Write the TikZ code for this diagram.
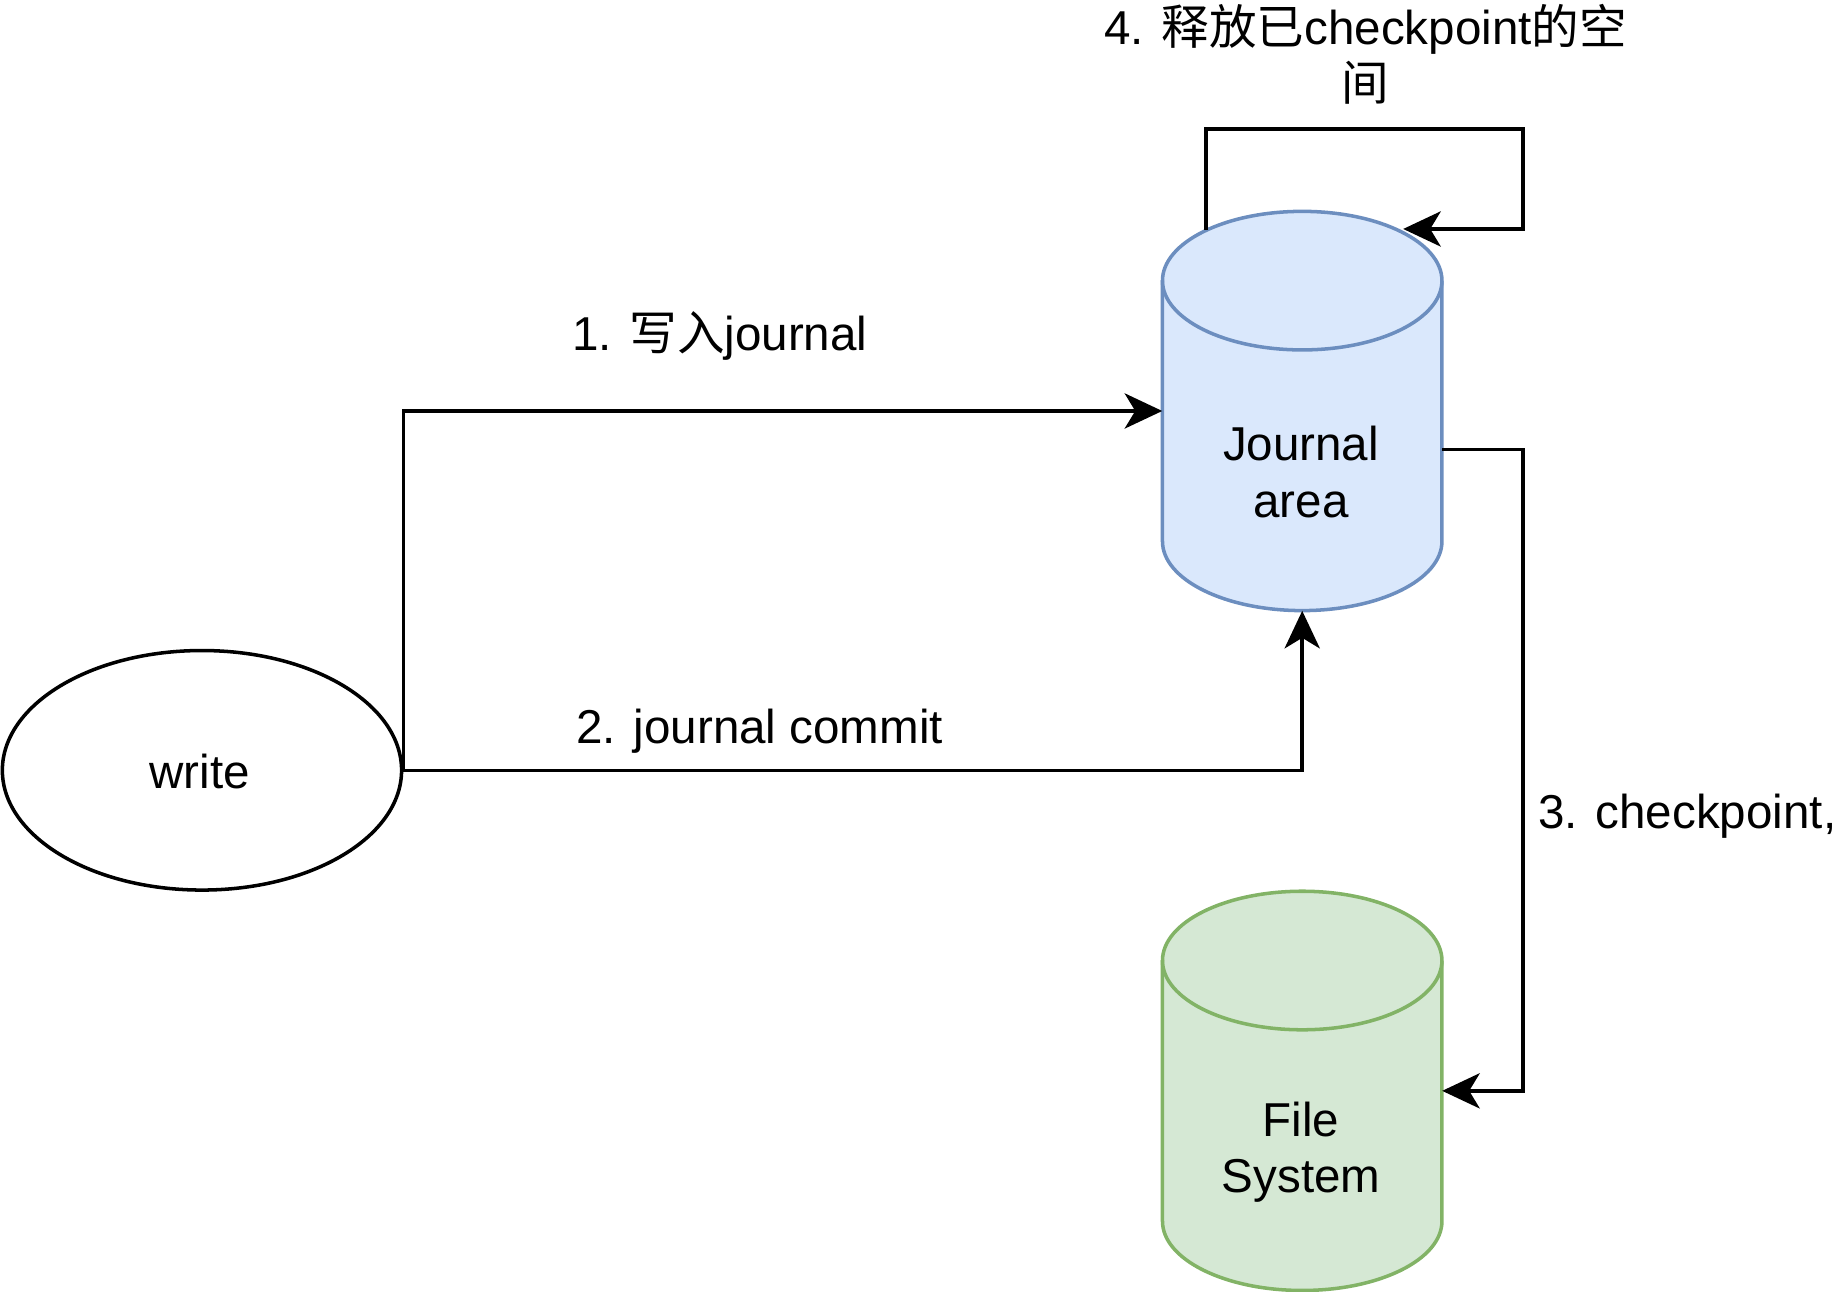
\documentclass[tikz,border=0pt]{standalone}
\usepackage{fontspec}
\setmainfont{Liberation Sans}
\newfontfamily\cjk{Noto Sans CJK SC}
\usetikzlibrary{arrows.meta,calc,shapes.geometric}
\definecolor{jfill}{HTML}{DAE8FC}
\definecolor{jline}{HTML}{6C8EBF}
\definecolor{ffill}{HTML}{D5E8D4}
\definecolor{fline}{HTML}{82B366}
\begin{document}
\begin{tikzpicture}[x=1pt,y=-1pt,
  lbl/.style={font=\fontsize{40.5}{48}\selectfont, inner sep=0pt, align=center},
  arr/.style={line width=3pt, -{Stealth[length=32pt,width=30pt,inset=9pt]}},
  anchorbox/.style={minimum width=238pt, minimum height=340pt, inner sep=0pt}]
\useasboundingbox (0,0) rectangle (1567,1100);
% write ellipse
\node[draw, line width=3pt, ellipse, minimum width=340pt, minimum height=204pt, fill=white] (w) at (172,656) {};
\node[lbl] (wt) at (170,657) {write};
% Journal cylinder
\filldraw[fill=jfill, draw=jline, line width=3pt] (990,461) arc[start angle=180,end angle=360,x radius=119pt,y radius=59pt] -- (1228,239) arc[start angle=0,end angle=180,x radius=119pt,y radius=59pt] -- cycle;
\draw[jline, line width=3pt] (990,239) arc[start angle=180,end angle=360,x radius=119pt,y radius=59pt];
\node[anchorbox] (j) at (1109,350) {};
\node[lbl] (jt) at (1108,402) {Journal\\area};
% File system cylinder
\filldraw[fill=ffill, draw=fline, line width=3pt] (990,1040) arc[start angle=180,end angle=360,x radius=119pt,y radius=59pt] -- (1228,818) arc[start angle=0,end angle=180,x radius=119pt,y radius=59pt] -- cycle;
\draw[fline, line width=3pt] (990,818) arc[start angle=180,end angle=360,x radius=119pt,y radius=59pt];
\node[anchorbox] (fs) at (1109,929) {};
\node[lbl] (ft) at (1108,981) {File\\System};
% connectors
\draw[arr] (w.east) |- (j.west);
\draw[arr] (w.east) -| (j.south);
\draw[arr] ([yshift=-33pt]j.east) -- ++(69,0) |- (fs.east);
\coordinate (l1) at (1027,196);
\coordinate (c1) at (1297,110);
\coordinate (l2) at (1195,195);
\draw[arr] (l1) |- (c1) |- (l2);
% labels
\node[lbl] (t1) at (613,286) {1. {\cjk 写入}journal};
\node[lbl] (t2) at (647,623) {2. journal commit};
\node[lbl, anchor=west] (t3) at (1310,695) {3. checkpoint,};
\node[lbl] (t4) at (1163,46) {4. {\cjk 释放已}checkpoint{\cjk 的空}\\{\cjk 间}};
\end{tikzpicture}
\end{document}
